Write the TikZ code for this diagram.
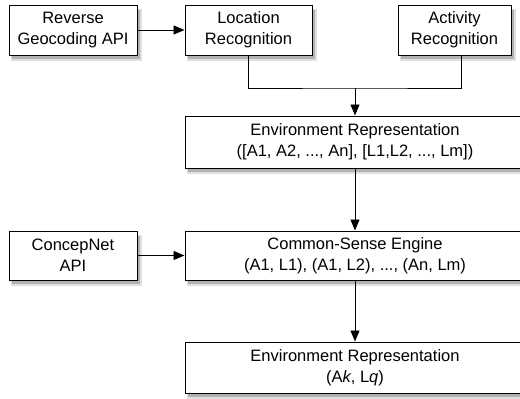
\documentclass[tikz,border=0pt]{standalone}
\usepackage{fontspec}
\setmainfont{Liberation Sans}
\usetikzlibrary{arrows.meta,calc}
\begin{document}
\begin{tikzpicture}[x=1pt,y=-1pt,
  box/.style={draw=black, line width=1pt, fill=white, align=center,
    font=\fontsize{16.5}{21}\selectfont, inner sep=0pt},
  shA/.style={fill=black!12},
  shB/.style={fill=black!30},
  conn/.style={draw=black, line width=0.9pt},
  arr/.style={conn, -{Triangle[length=11pt,width=9pt]}}]
\useasboundingbox (0,0) rectangle (520,399);
\fill[shA] (11,9) rectangle (142,61);
\fill[shB] (12,10) rectangle (140,59);
\fill[shA] (187,9) rectangle (317,61);
\fill[shB] (188,10) rectangle (315,59);
\fill[shA] (400,9) rectangle (516,61);
\fill[shB] (401,10) rectangle (514,59);
\fill[shA] (187,120) rectangle (530,174);
\fill[shB] (188,121) rectangle (528,172);
\fill[shA] (11,235) rectangle (142,286);
\fill[shB] (12,236) rectangle (140,284);
\fill[shA] (187,235) rectangle (530,286);
\fill[shB] (188,236) rectangle (528,284);
\fill[shA] (187,346) rectangle (530,399);
\fill[shB] (188,347) rectangle (528,397);
\node[box, minimum width=128pt, minimum height=50pt] (rev) at (73,30) {Reverse\\Geocoding API};
\node[box, minimum width=127pt, minimum height=50pt] (loc) at (248.5,30) {Location\\Recognition};
\node[box, minimum width=113pt, minimum height=50pt] (act) at (454.5,30) {Activity\\Recognition};
\node[box, minimum width=340pt, minimum height=52pt] (env1) at (355,142) {Environment Representation\\([A1, A2, ..., An], [L1,L2, ..., Lm])};
\node[box, minimum width=128pt, minimum height=49pt] (cn) at (73,255.5) {ConcepNet\\API};
\node[box, minimum width=340pt, minimum height=49pt] (cse) at (355,255.5) {Common-Sense Engine\\(A1, L1), (A1, L2), ..., (An, Lm)};
\node[box, minimum width=340pt, minimum height=51pt] (env2) at (355,367.5) {Environment Representation\\(A\textit{k}, L\textit{q})};
\coordinate (j) at (355,88);
\coordinate (actb) at ($(act.south)+(6.5,0)$);
\draw[arr] (rev) -- (loc);
\draw[conn] (loc.south) |- (j) -| (actb);
\draw[arr] (j) -- (env1.north);
\draw[arr] (env1.south) -- (cse.north);
\draw[arr] (cn) -- (cse);
\draw[arr] (cse.south) -- (env2.north);
\end{tikzpicture}
\end{document}
